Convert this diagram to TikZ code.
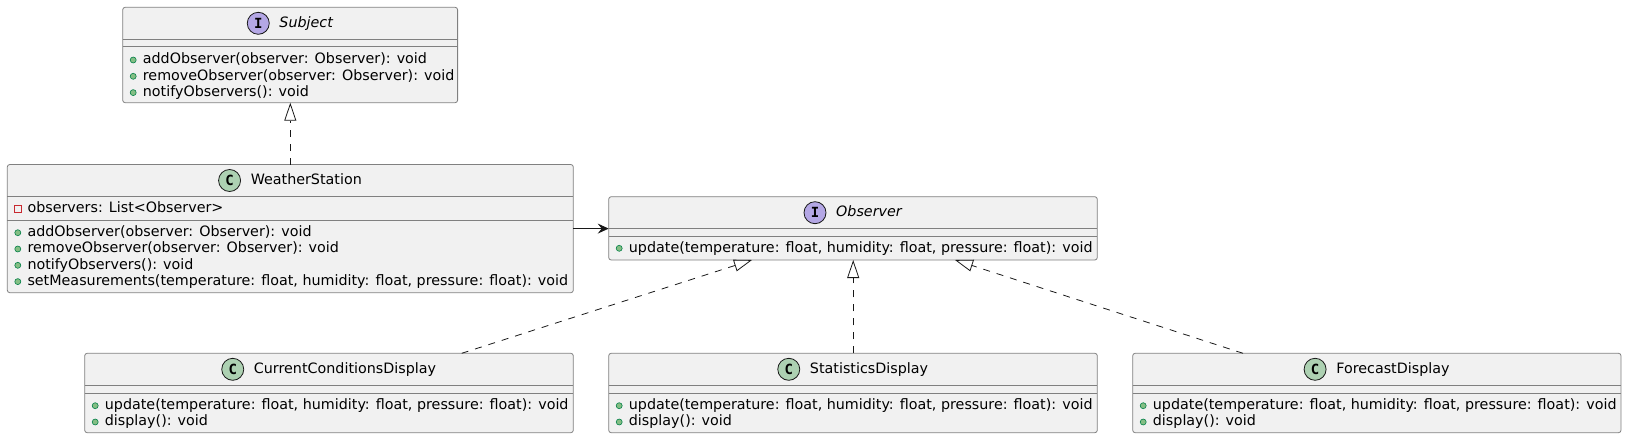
\documentclass[tikz,border=0pt]{standalone}
\usepackage{fontspec}
\setmainfont{DejaVu Sans}
\newfontfamily\iconfont{DejaVu Sans Mono}
\usetikzlibrary{arrows.meta}
\definecolor{boxfill}{HTML}{F1F1F1}
\definecolor{boxline}{HTML}{808080}
\definecolor{linkline}{HTML}{181818}
\definecolor{ifill}{HTML}{B4A7E5}
\definecolor{cfill}{HTML}{ADD1B2}
\definecolor{pubfill}{HTML}{84BE84}
\definecolor{publine}{HTML}{038048}
\definecolor{privline}{HTML}{C82930}
\tikzset{
  classbox/.style={draw=boxline, line width=0.8pt, fill=boxfill, rounded corners=2.5pt, anchor=north west, inner sep=0pt, outer sep=0pt},
  sepline/.style={draw=boxline, line width=0.8pt},
  clsname/.style={inner sep=0pt, font=\fontsize{14.3pt}{16.3pt}\selectfont, text height=10.7pt, text depth=3.1pt},
  mtext/.style={clsname, anchor=west},
  clsicon/.style={circle, draw=linkline, line width=0.8pt, minimum size=22pt, inner sep=0pt, font=\iconfont\bfseries\fontsize{14pt}{14pt}\selectfont},
  pubdot/.style={circle, draw=publine, fill=pubfill, minimum size=6pt, inner sep=0pt, line width=0.6pt},
  privsq/.style={rectangle, draw=privline, minimum size=6.5pt, inner sep=0pt, line width=0.8pt},
  realize/.style={draw=linkline, line width=0.8pt, dash pattern=on 7pt off 7pt, -{Triangle[open, length=18pt, width=12pt]}},
  assoc/.style={draw=linkline, line width=0.8pt, -{Stealth[length=11pt, width=10pt, inset=4pt]}}
}
\begin{document}
\begin{tikzpicture}[x=1pt, y=-1pt]
\useasboundingbox (0,0) rectangle (1627,439);

% ---------- Subject ----------
\node[classbox, minimum width=334.9pt, minimum height=95.4pt] (subject) at (122.7,7.3) {};
\draw[sepline] (122.7,39.3) -- (457.6,39.3);
\draw[sepline] (122.7,46.7) -- (457.6,46.7);
\node[clsname] (subjectN) at (306.2,23.3) {\itshape Subject};
\node[clsicon, fill=ifill] (subjectI) at ([xshift=-21pt]subjectN.west) {I};
\node[pubdot] (subjectD1) at (133.2,60) {};
\node[mtext] (subjectM1) at (142.7,60) {addObserver(observer: Observer): void};
\node[pubdot] (subjectD2) at (133.2,76.3) {};
\node[mtext] (subjectM2) at (142.7,76.3) {removeObserver(observer: Observer): void};
\node[pubdot] (subjectD3) at (133.2,92.6) {};
\node[mtext] (subjectM3) at (142.7,92.6) {notifyObservers(): void};

% ---------- WeatherStation ----------
\node[classbox, minimum width=566pt, minimum height=128.2pt] (ws) at (7.3,164.5) {};
\draw[sepline] (7.3,196.5) -- (573.3,196.5);
\draw[sepline] (7.3,220.5) -- (573.3,220.5);
\node[clsname] (wsN) at (306.3,180.5) {WeatherStation};
\node[clsicon, fill=cfill] (wsI) at ([xshift=-21pt]wsN.west) {C};
\node[privsq] (wsP1) at (17.8,209) {};
\node[mtext] (wsA1) at (27.3,209) {observers: List<Observer>};
\node[pubdot] (wsD1) at (17.8,232.7) {};
\node[mtext] (wsM1) at (27.3,232.7) {addObserver(observer: Observer): void};
\node[pubdot] (wsD2) at (17.8,249) {};
\node[mtext] (wsM2) at (27.3,249) {removeObserver(observer: Observer): void};
\node[pubdot] (wsD3) at (17.8,265.3) {};
\node[mtext] (wsM3) at (27.3,265.3) {notifyObservers(): void};
\node[pubdot] (wsD4) at (17.8,281.6) {};
\node[mtext] (wsM4) at (27.3,281.6) {setMeasurements(temperature: float, humidity: float, pressure: float): void};

% ---------- Observer ----------
\node[classbox, minimum width=488.6pt, minimum height=63.3pt] (obs) at (608.7,196.7) {};
\draw[sepline] (608.7,228.7) -- (1097.3,228.7);
\draw[sepline] (608.7,236.7) -- (1097.3,236.7);
\node[clsname] (obsN) at (869,212.7) {\itshape Observer};
\node[clsicon, fill=ifill] (obsI) at ([xshift=-21pt]obsN.west) {I};
\node[pubdot] (obsD1) at (619.2,248.3) {};
\node[mtext] (obsM1) at (628.7,248.3) {update(temperature: float, humidity: float, pressure: float): void};

% ---------- CurrentConditionsDisplay ----------
\node[classbox, minimum width=488.6pt, minimum height=79.4pt] (ccd) at (84.7,353.3) {};
\draw[sepline] (84.7,385.3) -- (573.3,385.3);
\draw[sepline] (84.7,393.5) -- (573.3,393.5);
\node[clsname] (ccdN) at (345,369.3) {CurrentConditionsDisplay};
\node[clsicon, fill=cfill] (ccdI) at ([xshift=-21pt]ccdN.west) {C};
\node[pubdot] (ccdD1) at (95.2,405.7) {};
\node[mtext] (ccdM1) at (104.7,405.7) {update(temperature: float, humidity: float, pressure: float): void};
\node[pubdot] (ccdD2) at (95.2,422) {};
\node[mtext] (ccdM2) at (104.7,422) {display(): void};

% ---------- StatisticsDisplay ----------
\node[classbox, minimum width=488.6pt, minimum height=79.4pt] (sd) at (608.7,353.3) {};
\draw[sepline] (608.7,385.3) -- (1097.3,385.3);
\draw[sepline] (608.7,393.5) -- (1097.3,393.5);
\node[clsname] (sdN) at (869,369.3) {StatisticsDisplay};
\node[clsicon, fill=cfill] (sdI) at ([xshift=-21pt]sdN.west) {C};
\node[pubdot] (sdD1) at (619.2,405.7) {};
\node[mtext] (sdM1) at (628.7,405.7) {update(temperature: float, humidity: float, pressure: float): void};
\node[pubdot] (sdD2) at (619.2,422) {};
\node[mtext] (sdM2) at (628.7,422) {display(): void};

% ---------- ForecastDisplay ----------
\node[classbox, minimum width=488.3pt, minimum height=79.4pt] (fd) at (1132.7,353.3) {};
\draw[sepline] (1132.7,385.3) -- (1621,385.3);
\draw[sepline] (1132.7,393.5) -- (1621,393.5);
\node[clsname] (fdN) at (1392.9,369.3) {ForecastDisplay};
\node[clsicon, fill=cfill] (fdI) at ([xshift=-21pt]fdN.west) {C};
\node[pubdot] (fdD1) at (1143.2,405.7) {};
\node[mtext] (fdM1) at (1152.7,405.7) {update(temperature: float, humidity: float, pressure: float): void};
\node[pubdot] (fdD2) at (1143.2,422) {};
\node[mtext] (fdM2) at (1152.7,422) {display(): void};

% ---------- connectors ----------
\draw[realize] (ws.north) -- (ws.north |- subject.south);
\draw[assoc] (ws.east) -- (ws.east -| obs.west);
\draw[realize] ([xshift=377pt]ccd.north west) -- ([xshift=143.3pt]obs.south west);
\draw[realize] ([xshift=244.5pt]sd.north west) -- ([xshift=244.5pt]obs.south west);
\draw[realize] ([xshift=110.3pt]fd.north west) -- ([xshift=346.3pt]obs.south west);
\end{tikzpicture}
\end{document}
